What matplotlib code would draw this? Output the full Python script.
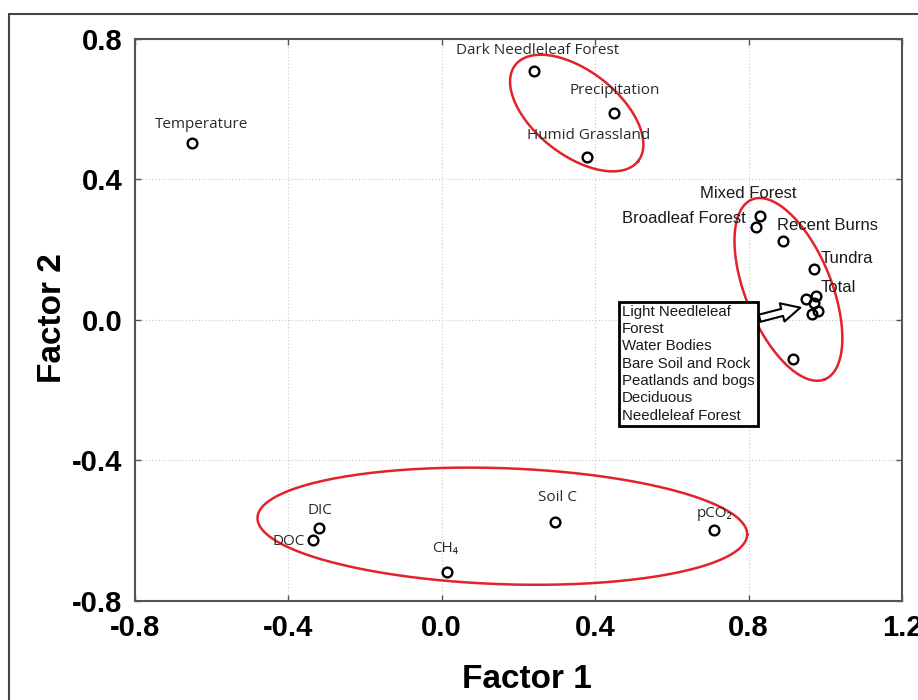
import matplotlib.pyplot as plt
import numpy as np
from matplotlib.patches import Rectangle, FancyArrowPatch

# Factor loadings
names = ['Temperature', 'Dark Needleleaf Forest', 'Precipitation', 'Humid Grassland',
         'Mixed Forest', 'Broadleaf Forest', 'Recent Burns', 'Tundra', 'Total',
         'Light Needleleaf Forest', 'Water Bodies', 'Bare Soil and Rock',
         'Deciduous Needleleaf Forest', 'Peatlands and bogs',
         'DIC', 'DOC', 'CH₄', 'Soil C', 'pCO₂']
factor1 = [-0.65, 0.24, 0.45, 0.38,
           0.83, 0.82, 0.89, 0.97, 0.976,
           0.951, 0.971, 0.981, 0.965, 0.915,
           -0.32, -0.335, 0.015, 0.295, 0.71]
factor2 = [0.505, 0.71, 0.59, 0.465,
           0.295, 0.265, 0.226, 0.146, 0.069,
           0.060, 0.049, 0.026, 0.017, -0.111,
           -0.593, -0.627, -0.716, -0.574, -0.597]

xticks = [-0.8, -0.4, 0.0, 0.4, 0.8, 1.2]
yticks = [-0.8, -0.4, 0.0, 0.4, 0.8]

legend_lines = ['Light Needleleaf', 'Forest', 'Water Bodies', 'Bare Soil and Rock',
                'Peatlands and bogs', 'Deciduous', 'Needleleaf Forest']

# label placement: offset in pixels (dx right, dy down), alignment, font group
labels = {
    'Temperature': (9, -18, 'center', 'small'),
    'Dark Needleleaf Forest': (4, -20, 'center', 'small'),
    'Precipitation': (0, -22, 'center', 'small'),
    'Humid Grassland': (1, -21, 'center', 'small'),
    'DIC': (1, -18, 'center', 'small'),
    'DOC': (-9, 1, 'right', 'small'),
    'CH₄': (-2, -23, 'center', 'small'),
    'Soil C': (3, -24, 'center', 'small'),
    'pCO₂': (1, -16, 'center', 'small'),
    'Mixed Forest': (-12, -23, 'center', 'big'),
    'Broadleaf Forest': (-10, -8, 'right', 'big'),
    'Recent Burns': (-6, -15, 'left', 'big'),
    'Tundra': (7, -10, 'left', 'big'),
    'Total': (5, -8, 'left', 'big'),
}
fonts = {
    'small': dict(family=['Open Sans', 'DejaVu Sans'], size=11, color='#2a2a2a'),
    'big': dict(family=['Liberation Sans', 'DejaVu Sans'], size=12, color='#1a1a1a'),
}

# groups circled in red: centre (data), semi axes (px), angle (deg)
groups = [
    ((0.352, 0.589), 78, 42, -38),
    ((0.904, 0.087), 97, 43, -68),
    ((0.158, -0.587), 245, 58, -2),
]

fig = plt.figure(figsize=(9.18, 7.0), dpi=100)
ax = fig.add_axes([0.147, 0.1414, 0.8355, 0.803])

# outer frame
fig.patches.append(Rectangle((9 / 918, -0.1), 1.2, 1.1 - 14 / 700, transform=fig.transFigure,
                             fill=False, ec='#444444', lw=1.5))

ax.set_xlim(-0.8, 1.2)
ax.set_ylim(-0.8, 0.8)
ax.set_xticks(xticks)
ax.set_yticks(yticks)
ax.set_xticklabels(['%.1f' % v for v in xticks])
ax.set_yticklabels(['%.1f' % v for v in yticks])
ax.tick_params(direction='in', top=True, right=True, length=4, width=1, color='#555555',
               pad=9, labelsize=21)
for lab in ax.get_xticklabels() + ax.get_yticklabels():
    lab.set_fontfamily('Liberation Sans')
    lab.set_fontweight('bold')
ax.grid(True, ls=(0, (1, 2)), color='#c8c8c8', lw=0.8)
for sp in ax.spines.values():
    sp.set_color('#555555')
    sp.set_linewidth(1.5)

ax.set_xlabel('Factor 1', family='Liberation Sans', fontsize=24, fontweight='bold')
ax.set_ylabel('Factor 2', family='Liberation Sans', fontsize=24, fontweight='bold')
ax.xaxis.set_label_coords(0.511, -0.112)
ax.yaxis.set_label_coords(-0.087, 0.503)

ax.plot(factor1, factor2, 'o', mfc='none', mec='black', ms=7, mew=1.7, zorder=3)

for n, x, y in zip(names, factor1, factor2):
    if n not in labels:
        continue
    dx, dy, ha, grp = labels[n]
    ax.annotate(n, (x, y), xytext=(dx * 0.72, -dy * 0.72), textcoords='offset points',
                ha=ha, va='center', **fonts[grp])

# red ellipses (drawn in pixel space, then converted to data units)
sx = 0.8355 * 918 / 2.0
sy = 0.803 * 700 / 1.6
t = np.linspace(0, 2 * np.pi, 300)
for (cx, cy), a, b, ang in groups:
    th = np.radians(ang)
    u, v = a * np.cos(t), b * np.sin(t)
    ax.plot(cx + (u * np.cos(th) - v * np.sin(th)) / sx,
            cy + (u * np.sin(th) + v * np.cos(th)) / sy,
            color='#e3222b', lw=1.8, zorder=2)

# box with the names of the clustered points
ax.text(0.47, 0.043, '\n'.join(legend_lines), ha='left', va='top',
        family='Liberation Sans', fontsize=10.8, color='#1a1a1a', linespacing=1.3,
        bbox=dict(boxstyle='square,pad=0.2', fc='white', ec='black', lw=2), zorder=4)
ax.add_patch(FancyArrowPatch((0.822, 0.003), (0.942, 0.037),
                             arrowstyle='simple,head_width=0.9,head_length=0.9,tail_width=0.35',
                             mutation_scale=15, fc='white', ec='black', lw=1.5, zorder=4))

plt.savefig('out.png', dpi=100)
